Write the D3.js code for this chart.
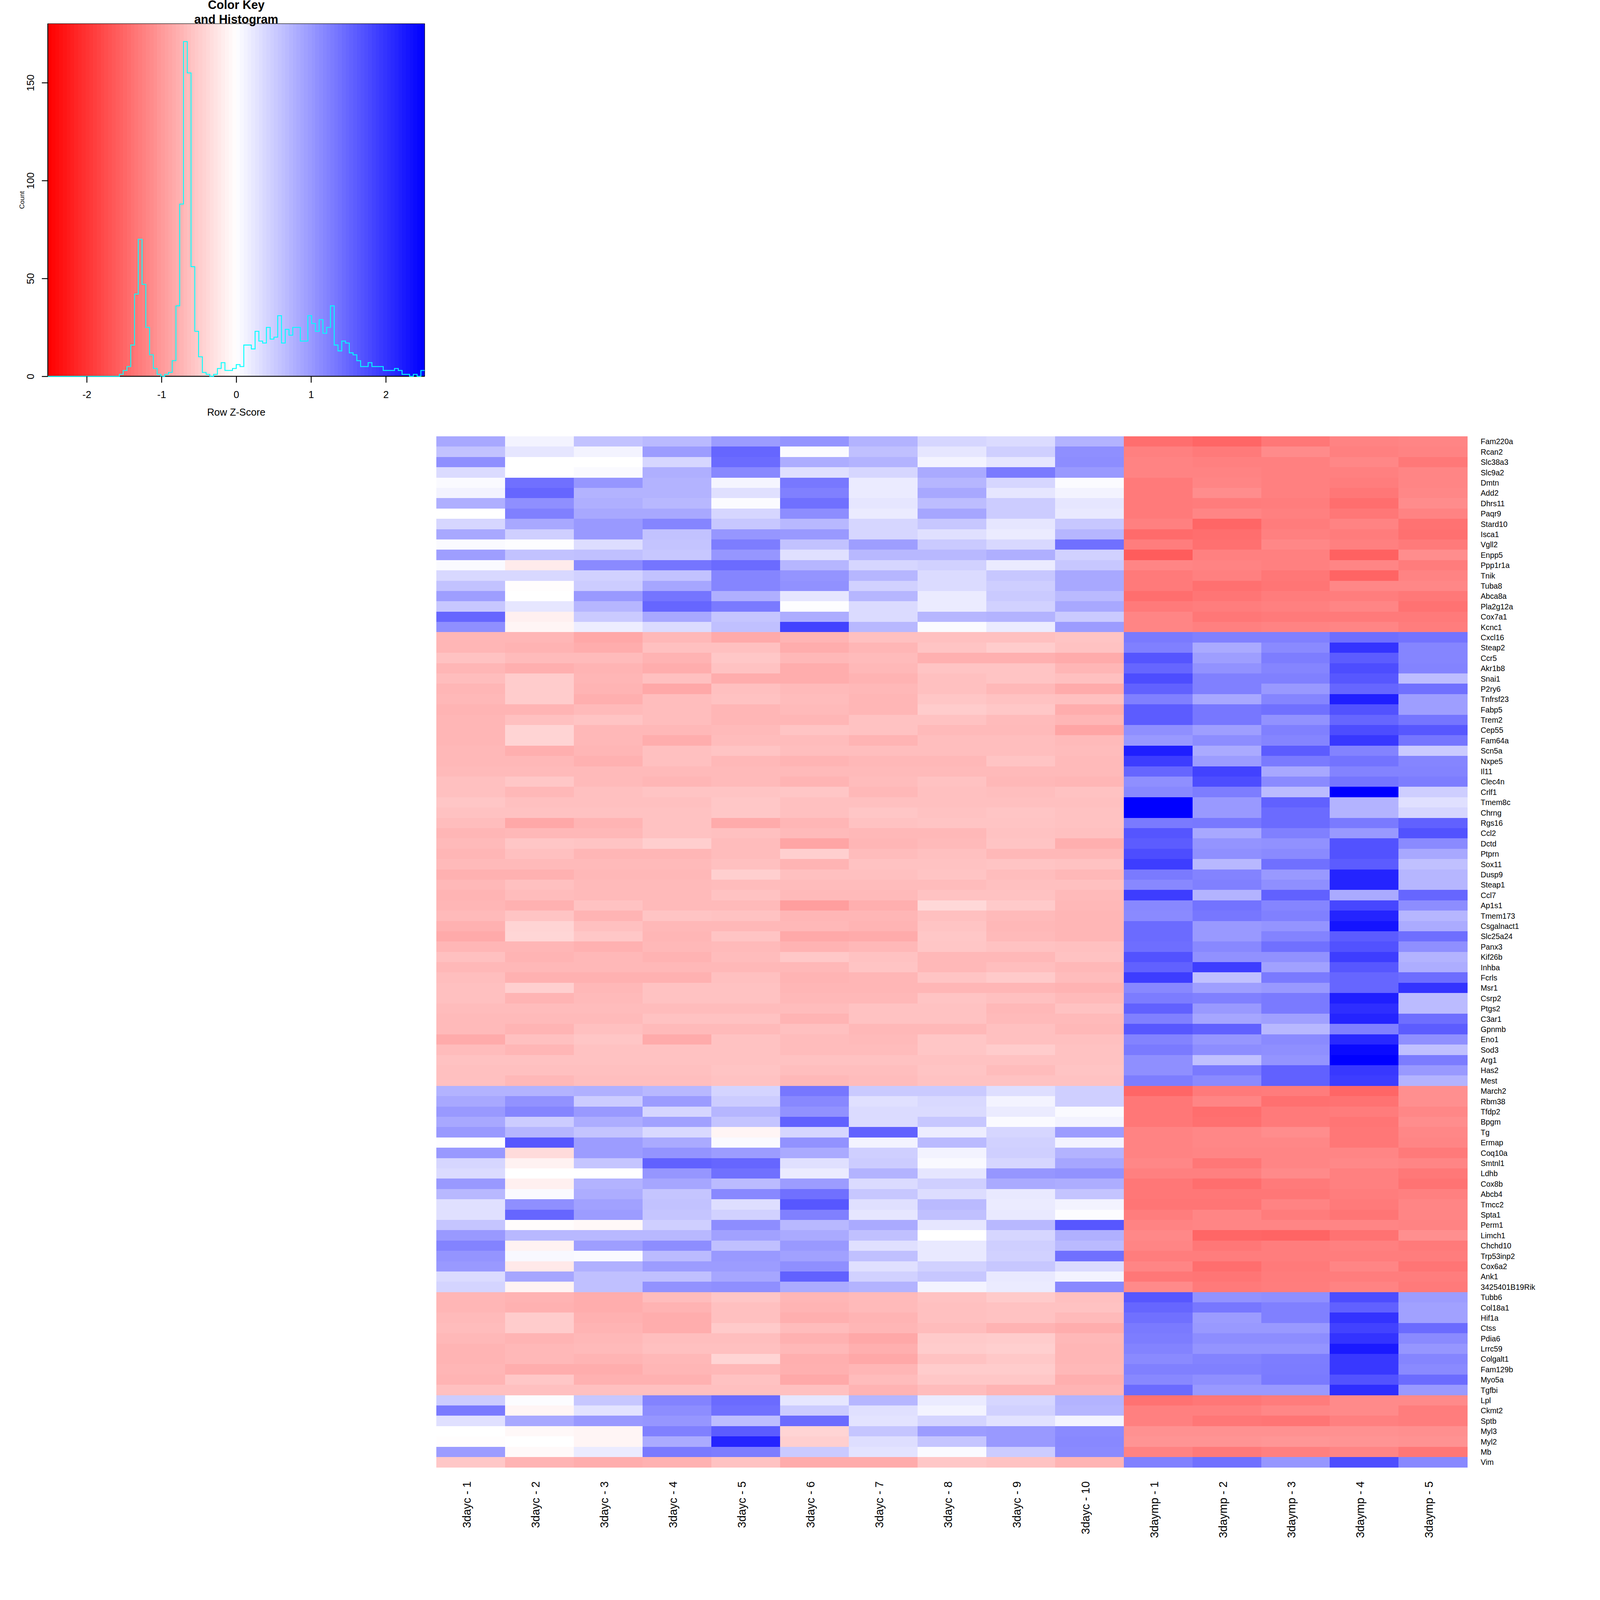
<!DOCTYPE html>
<html>
<head>
<meta charset="utf-8">
<script src="https://cdn.jsdelivr.net/npm/d3@7"></script>
<style>
  html, body { margin: 0; padding: 0; background: #fff; width: 100%; height: 100%; overflow: hidden; }
  svg { display: block; width: 100vw; height: 100vh; }
  text { font-family: "Liberation Sans", Arial, sans-serif; fill: #000; }
</style>
</head>
<body>
<svg id="chart" viewBox="0 0 4800 4800" preserveAspectRatio="xMinYMin meet"></svg>
<script>
// =========================
// DATA
// =========================
const colLabels = [
  "3dayc - 1", "3dayc - 2", "3dayc - 3", "3dayc - 4", "3dayc - 5",
  "3dayc - 6", "3dayc - 7", "3dayc - 8", "3dayc - 9", "3dayc - 10",
  "3daymp - 1", "3daymp - 2", "3daymp - 3", "3daymp - 4", "3daymp - 5"
];

const rowLabels = [
  "Fam220a", "Rcan2", "Slc38a3", "Slc9a2", "Dmtn", "Add2", "Dhrs11", "Paqr9", "Stard10", "Isca1",
  "Vgll2", "Enpp5", "Ppp1r1a", "Tnik", "Tuba8", "Abca8a", "Pla2g12a", "Cox7a1", "Kcnc1", "Cxcl16",
  "Steap2", "Ccr5", "Akr1b8", "Snai1", "P2ry6", "Tnfrsf23", "Fabp5", "Trem2", "Cep55", "Fam64a",
  "Scn5a", "Nxpe5", "Il11", "Clec4n", "Crlf1", "Tmem8c", "Chrng", "Rgs16", "Ccl2", "Dctd",
  "Ptprn", "Sox11", "Dusp9", "Steap1", "Ccl7", "Ap1s1", "Tmem173", "Csgalnact1", "Slc25a24", "Panx3",
  "Kif26b", "Inhba", "Fcrls", "Msr1", "Csrp2", "Ptgs2", "C3ar1", "Gpnmb", "Eno1", "Sod3",
  "Arg1", "Has2", "Mest", "March2", "Rbm38", "Tfdp2", "Bpgm", "Tg", "Ermap", "Coq10a",
  "Smtnl1", "Ldhb", "Cox8b", "Abcb4", "Tmcc2", "Spta1", "Perm1", "Limch1", "Chchd10", "Trp53inp2",
  "Cox6a2", "Ank1", "3425401B19Rik", "Tubb6", "Col18a1", "Hif1a", "Ctss", "Pdia6", "Lrrc59", "Colgalt1",
  "Fam129b", "Myo5a", "Tgfbi", "Lpl", "Ckmt2", "Sptb", "Myl3", "Myl2", "Mb", "Vim"
];

// row z-scores, top row first
const zScores = [
  [.85,.12,.6,.68,.97,1.05,.75,.4,.35,.75,-1.42,-1.5,-1.33,-1.22,-1.2],
  [.6,.25,.12,.97,1.5,.04,.62,.25,.47,1.1,-1.25,-1.3,-1.14,-1.25,-1.22],
  [1.1,0,0,.4,1.45,.8,.75,.12,.25,1.12,-1.22,-1.25,-1.25,-1.18,-1.32],
  [.35,0,.05,.78,1.17,.3,.4,.83,1.3,1.0,-1.22,-1.22,-1.25,-1.25,-1.2],
  [.05,1.4,1.03,.75,.1,1.32,.2,.72,.4,.04,-1.3,-1.2,-1.25,-1.27,-1.2],
  [.12,1.5,.75,.75,.3,1.25,.2,.85,.25,.12,-1.3,-1.12,-1.25,-1.33,-1.18],
  [.78,1.1,.78,.7,.04,1.4,.25,.65,.5,.25,-1.3,-1.28,-1.27,-1.42,-1.13],
  [0,1.25,.85,.85,.4,1.12,.2,.87,.5,.22,-1.3,-1.2,-1.25,-1.33,-1.22],
  [.4,.85,1.0,1.2,.55,.7,.4,.55,.25,.55,-1.25,-1.5,-1.28,-1.22,-1.38],
  [.85,.47,1.0,.6,1.03,1.0,.4,.3,.2,.72,-1.45,-1.42,-1.25,-1.28,-1.4],
  [.05,.02,.33,.58,1.27,.6,.95,.52,.38,1.4,-1.27,-1.4,-1.18,-1.25,-1.3],
  [.95,.6,.62,.55,1.03,.3,.7,.7,.78,.45,-1.6,-1.25,-1.25,-1.55,-1.12],
  [.05,-.2,1.15,1.35,1.45,.72,.4,.45,.2,.55,-1.2,-1.22,-1.25,-1.2,-1.28],
  [.38,.38,.45,.6,1.2,1.05,.72,.35,.55,.85,-1.3,-1.25,-1.33,-1.52,-1.22],
  [.6,-.02,.5,.87,1.2,1.08,.45,.35,.48,.85,-1.3,-1.4,-1.35,-1.18,-1.18],
  [.95,0,1.0,1.35,.78,.25,.72,.2,.52,.68,-1.42,-1.35,-1.28,-1.27,-1.32],
  [.55,.25,.72,1.5,1.3,.02,.35,.2,.45,.85,-1.3,-1.27,-1.25,-1.2,-1.38],
  [1.5,-.15,.52,.85,.57,.8,.35,.72,.75,.52,-1.2,-1.33,-1.3,-1.3,-1.3],
  [1.1,-.1,.18,.35,.62,1.85,.7,.05,.2,.97,-1.2,-1.25,-1.22,-1.2,-1.27],
  [-.72,-.72,-.85,-.7,-.83,-.74,-.62,-.62,-.62,-.58,1.3,1.25,1.25,1.42,1.37],
  [-.72,-.75,-.8,-.62,-.62,-.8,-.72,-.58,-.5,-.6,1.25,.83,1.15,2.0,1.2],
  [-.6,-.67,-.67,-.75,-.55,-.7,-.67,-.77,-.77,-.82,1.67,.95,1.27,1.6,1.2],
  [-.72,-.78,-.74,-.8,-.6,-.8,-.7,-.58,-.58,-.72,1.5,1.07,1.2,1.75,1.22],
  [-.65,-.5,-.72,-.62,-.8,-.8,-.75,-.62,-.58,-.62,1.75,1.25,1.25,1.65,.65],
  [-.72,-.5,-.74,-.85,-.62,-.68,-.7,-.62,-.7,-.82,1.55,1.25,1.0,1.5,1.4],
  [-.7,-.5,-.78,-.65,-.6,-.66,-.72,-.56,-.6,-.62,1.25,.85,1.2,2.2,.95],
  [-.74,-.74,-.68,-.65,-.72,-.68,-.72,-.5,-.55,-.8,1.6,1.33,1.4,1.7,.95],
  [-.72,-.62,-.58,-.65,-.72,-.72,-.6,-.6,-.67,-.72,1.6,1.33,1.07,1.5,1.35],
  [-.72,-.42,-.7,-.7,-.68,-.58,-.6,-.68,-.68,-.88,1.1,.95,1.25,1.75,1.65],
  [-.72,-.42,-.7,-.8,-.66,-.66,-.74,-.64,-.64,-.68,1.0,1.12,1.2,1.95,1.35],
  [-.7,-.78,-.72,-.62,-.58,-.64,-.64,-.64,-.64,-.66,2.2,.83,1.6,1.22,.52],
  [-.7,-.7,-.76,-.62,-.7,-.74,-.7,-.7,-.58,-.68,1.9,.97,1.3,1.37,1.2],
  [-.68,-.68,-.68,-.68,-.68,-.68,-.68,-.68,-.68,-.68,1.5,1.85,.85,1.22,1.22],
  [-.62,-.55,-.68,-.72,-.68,-.74,-.66,-.6,-.7,-.72,1.1,1.75,1.15,1.35,1.27],
  [-.62,-.7,-.62,-.58,-.58,-.56,-.7,-.62,-.64,-.6,1.17,1.27,.67,2.5,.48],
  [-.56,-.62,-.62,-.62,-.55,-.62,-.62,-.62,-.62,-.62,2.5,1.0,1.55,.75,.3],
  [-.6,-.6,-.6,-.6,-.55,-.62,-.56,-.6,-.57,-.6,2.5,1.0,1.45,.75,.4],
  [-.65,-.85,-.74,-.6,-.82,-.72,-.6,-.58,-.58,-.6,1.3,1.32,1.45,1.3,1.55],
  [-.72,-.7,-.7,-.6,-.62,-.68,-.7,-.7,-.6,-.62,1.67,.85,1.25,1.0,1.7],
  [-.68,-.56,-.58,-.48,-.66,-.88,-.72,-.68,-.58,-.78,1.6,1.05,1.08,1.7,1.15],
  [-.72,-.62,-.72,-.72,-.66,-.47,-.66,-.62,-.7,-.7,1.75,1.1,1.15,1.7,.85],
  [-.68,-.68,-.68,-.68,-.62,-.74,-.6,-.6,-.58,-.6,1.9,.7,1.4,1.6,.62],
  [-.76,-.76,-.7,-.7,-.47,-.62,-.62,-.58,-.65,-.7,1.3,1.22,1.0,2.15,.72],
  [-.7,-.62,-.68,-.68,-.66,-.66,-.66,-.66,-.62,-.62,1.17,1.25,1.1,2.15,.72],
  [-.74,-.66,-.68,-.68,-.6,-.68,-.68,-.6,-.6,-.68,1.9,.75,1.55,.83,1.5],
  [-.72,-.76,-.6,-.68,-.68,-.95,-.78,-.38,-.52,-.7,1.17,1.37,1.2,1.8,1.12],
  [-.68,-.58,-.74,-.58,-.6,-.72,-.72,-.62,-.68,-.72,1.15,1.33,1.25,2.15,.72],
  [-.76,-.42,-.62,-.7,-.7,-.7,-.74,-.58,-.7,-.72,1.45,1.0,1.05,2.3,.82],
  [-.83,-.4,-.55,-.72,-.58,-.84,-.82,-.55,-.68,-.72,1.45,1.0,1.22,1.6,1.42],
  [-.72,-.72,-.76,-.7,-.68,-.75,-.7,-.56,-.6,-.62,1.42,1.17,1.4,1.7,1.1],
  [-.62,-.74,-.7,-.75,-.66,-.54,-.6,-.7,-.7,-.6,1.7,1.08,1.08,1.9,.75],
  [-.7,-.7,-.7,-.7,-.7,-.7,-.58,-.7,-.64,-.7,1.55,1.9,.92,1.65,.8],
  [-.64,-.76,-.76,-.76,-.62,-.74,-.72,-.58,-.52,-.66,1.9,.62,1.3,1.5,1.43],
  [-.62,-.47,-.7,-.6,-.6,-.72,-.72,-.72,-.72,-.75,1.17,.95,1.0,1.5,2.0],
  [-.62,-.74,-.68,-.6,-.6,-.7,-.7,-.58,-.62,-.68,1.28,1.25,1.3,2.2,.67],
  [-.66,-.66,-.66,-.66,-.66,-.66,-.6,-.6,-.7,-.6,1.55,1.0,1.3,2.05,.67],
  [-.68,-.68,-.68,-.6,-.6,-.74,-.6,-.6,-.68,-.68,1.25,.87,.93,2.15,1.42],
  [-.68,-.74,-.62,-.68,-.68,-.62,-.7,-.7,-.62,-.7,1.65,1.55,.7,1.25,1.6],
  [-.82,-.62,-.56,-.82,-.6,-.66,-.68,-.56,-.62,-.62,1.22,1.03,1.15,2.1,1.1],
  [-.66,-.72,-.6,-.6,-.6,-.66,-.66,-.56,-.5,-.6,1.3,1.12,1.1,2.4,.62],
  [-.6,-.6,-.6,-.6,-.6,-.6,-.6,-.6,-.6,-.6,1.1,.62,1.05,2.5,1.28],
  [-.62,-.62,-.62,-.62,-.58,-.64,-.64,-.58,-.66,-.58,1.1,1.3,1.55,1.95,1.0],
  [-.62,-.7,-.64,-.64,-.6,-.7,-.66,-.6,-.6,-.6,1.27,1.15,1.55,1.9,.75],
  [.75,.75,.77,.7,.42,1.33,.52,.52,.32,.47,-1.5,-1.3,-1.28,-1.5,-1.1],
  [.85,1.07,.5,.97,.5,1.17,.3,.37,.12,.47,-1.33,-1.2,-1.4,-1.38,-1.1],
  [1.0,1.2,1.0,.4,.72,1.07,.35,.35,.2,.05,-1.33,-1.42,-1.3,-1.28,-1.18],
  [.85,.5,.8,.92,.58,1.55,.35,.55,.05,.12,-1.33,-1.4,-1.3,-1.35,-1.12],
  [1.0,.72,.58,.37,-.1,.4,1.55,.18,.4,.97,-1.22,-1.18,-1.12,-1.33,-1.18],
  [.02,1.65,.97,.83,.05,1.07,.12,.68,.45,.12,-1.22,-1.18,-1.18,-1.33,-1.2],
  [1.0,-.35,.97,1.05,.97,.83,.47,.12,.47,.75,-1.22,-1.2,-1.2,-1.2,-1.3],
  [.4,-.13,.57,1.55,1.5,.3,.5,.06,.4,.87,-1.18,-1.33,-1.2,-1.17,-1.2],
  [.35,0,0,1.03,1.4,.2,.75,.25,1.03,1.07,-1.25,-1.25,-1.15,-1.25,-1.32],
  [1.0,-.15,.75,.87,.67,.97,.35,.47,.83,.8,-1.33,-1.42,-1.3,-1.25,-1.37],
  [.7,.05,.8,.57,1.17,1.4,.55,.33,.22,.58,-1.33,-1.33,-1.33,-1.27,-1.25],
  [.3,1.1,.92,.6,.32,1.65,.3,.68,.2,.12,-1.35,-1.35,-1.22,-1.3,-1.2],
  [.3,1.5,.97,.57,.45,1.25,.25,.62,.22,.03,-1.27,-1.2,-1.28,-1.35,-1.2],
  [.57,-.03,-.07,.47,1.12,.7,.83,.25,.7,1.65,-1.22,-1.2,-1.2,-1.2,-1.22],
  [1.0,.7,.7,.7,.92,.83,.62,0,.4,.77,-1.17,-1.5,-1.52,-1.38,-1.1],
  [1.22,-.13,.95,1.12,.62,1.0,.3,.22,.47,.68,-1.2,-1.33,-1.27,-1.25,-1.3],
  [1.05,.07,.05,.67,1.0,.92,.62,.22,.45,1.4,-1.27,-1.27,-1.27,-1.27,-1.27],
  [1.0,-.22,.77,.97,.97,1.1,.3,.45,.55,.35,-1.2,-1.42,-1.3,-1.2,-1.35],
  [.35,.87,.62,.62,.87,1.55,.45,.55,.22,.12,-1.33,-1.35,-1.28,-1.27,-1.27],
  [.42,-.12,.62,1.07,1.1,.82,.75,.12,.2,1.17,-1.15,-1.3,-1.27,-1.22,-1.3],
  [-.72,-.75,-.8,-.66,-.56,-.72,-.68,-.6,-.52,-.62,1.65,1.07,1.1,1.75,.97],
  [-.72,-.76,-.8,-.75,-.62,-.74,-.68,-.62,-.6,-.6,1.5,1.33,1.25,1.55,.92],
  [-.68,-.5,-.76,-.8,-.62,-.78,-.74,-.62,-.6,-.68,1.4,.97,1.25,2.0,.92],
  [-.66,-.5,-.74,-.8,-.52,-.66,-.72,-.66,-.75,-.8,1.3,1.0,1.0,1.85,1.45],
  [-.7,-.74,-.7,-.64,-.64,-.76,-.85,-.52,-.5,-.7,1.27,1.12,1.12,2.0,1.15],
  [-.74,-.7,-.68,-.62,-.62,-.7,-.78,-.5,-.47,-.72,1.22,1.05,1.05,2.25,1.03],
  [-.74,-.7,-.74,-.7,-.42,-.78,-.85,-.6,-.54,-.72,1.15,1.22,1.27,1.95,1.2],
  [-.72,-.8,-.8,-.72,-.7,-.77,-.72,-.5,-.5,-.7,1.25,1.25,1.28,1.95,1.15],
  [-.74,-.55,-.76,-.76,-.6,-.84,-.66,-.55,-.55,-.78,1.17,1.1,1.3,1.7,1.45],
  [-.62,-.62,-.62,-.62,-.62,-.62,-.75,-.66,-.74,-.74,1.45,1.0,1.0,2.05,1.0],
  [.5,.03,.55,1.22,1.45,.25,.72,.2,.4,.75,-1.38,-1.33,-1.28,-1.15,-1.15],
  [1.3,-.1,.27,1.12,1.4,.5,.3,.12,.45,.72,-1.25,-1.25,-1.18,-1.15,-1.27],
  [.3,.85,1.0,1.03,.65,1.45,.27,.42,.28,.12,-1.25,-1.33,-1.35,-1.25,-1.27],
  [0,-.07,-.1,1.25,1.6,-.42,.57,.97,1.0,1.15,-1.08,-1.08,-1.08,-1.08,-1.1],
  [-.02,0,-.1,.82,2.15,-.47,.32,.57,1.0,1.17,-1.05,-1.05,-1.03,-1.05,-1.07],
  [.97,-.06,.2,1.3,1.27,.52,.27,.05,.5,1.15,-1.22,-1.3,-1.25,-1.2,-1.33],
  [-.55,-.75,-.8,-.76,-.6,-.82,-.82,-.55,-.6,-.75,1.25,1.4,1.03,1.75,1.17]
];

// colour key histogram: one count per bin, left to right
const histCounts = [
  0,0,0,0,0,0,0,0,0,0,0,0,0,0,0,0,0,0,0,
  1,3,5,16,42,70,47,25,11,4,
  1,0,1,2,8,36,88,171,155,56,
  23,10,2,1,0,1,4,7,3,3,
  4,6,5,16,16,14,23,18,17,25,
  19,20,31,17,24,21,25,25,18,18,
  31,27,23,29,22,25,36,16,13,18,
  17,12,11,8,5,5,7,5,5,5,
  3,3,3,4,3,1,1,0,1,0,
  3
];
const keyXTicks = [-2, -1, 0, 1, 2];
const keyYTicks = [0, 50, 100, 150];
const keyRange = [-2.52, 2.52];
const keyTitle = ["Color Key", "and Histogram"];

// =========================
// SETUP
// =========================
const svg = d3.select("#chart");

const color = d3.scaleLinear()
  .domain([-2.5, 0, 2.5])
  .range(["#ff0000", "#ffffff", "#0000ff"])
  .clamp(true);

// =========================
// HEATMAP
// =========================
const heat = { left: 1309, right: 4402, top: 1309, bottom: 4402 };

const xCol = d3.scaleBand().domain(colLabels).range([heat.left, heat.right]);
const yRow = d3.scaleBand().domain(d3.range(rowLabels.length)).range([heat.top, heat.bottom]);

const rows = svg.append("g").attr("shape-rendering", "crispEdges")
  .selectAll("g")
  .data(zScores)
  .join("g")
  .attr("transform", (d, i) => `translate(0,${yRow(i)})`);

rows.selectAll("rect")
  .data(d => d)
  .join("rect")
  .attr("x", (d, j) => xCol(colLabels[j]))
  .attr("width", xCol.bandwidth() + 0.5)
  .attr("height", yRow.bandwidth() + 0.5)
  .attr("fill", d => color(d));

svg.append("g")
  .selectAll("text")
  .data(rowLabels)
  .join("text")
  .attr("x", 4442)
  .attr("y", (d, i) => yRow(i) + yRow.bandwidth() / 2 + 8.5)
  .attr("font-size", 23)
  .text(d => d);

svg.append("g")
  .selectAll("text")
  .data(colLabels)
  .join("text")
  .attr("transform", d => `translate(${xCol(d) + xCol.bandwidth() / 2},4444) rotate(-90)`)
  .attr("text-anchor", "end")
  .attr("font-size", 34)
  .text(d => d);

// =========================
// COLOR KEY + HISTOGRAM
// =========================
const key = { left: 143.5, right: 1274, top: 71, bottom: 1129 };

const xKey = d3.scaleLinear().domain(keyRange).range([key.left, key.right]);
const yKey = d3.scaleLinear().domain([0, 150]).range([key.bottom, 248]);

const binWidth = (keyRange[1] - keyRange[0]) / histCounts.length;
const bins = histCounts.map((count, i) => ({
  x0: keyRange[0] + i * binWidth,
  x1: keyRange[0] + (i + 1) * binWidth,
  count
}));

svg.append("g").attr("shape-rendering", "crispEdges")
  .selectAll("rect")
  .data(bins)
  .join("rect")
  .attr("x", d => xKey(d.x0))
  .attr("y", key.top)
  .attr("width", d => xKey(d.x1) - xKey(d.x0) + 0.5)
  .attr("height", key.bottom - key.top)
  .attr("fill", d => color((d.x0 + d.x1) / 2));

svg.append("rect")
  .attr("x", key.left).attr("y", key.top)
  .attr("width", key.right - key.left).attr("height", key.bottom - key.top)
  .attr("fill", "none").attr("stroke", "#222").attr("stroke-width", 1.5);

svg.append("line")
  .attr("x1", key.left).attr("x2", key.left)
  .attr("y1", key.top).attr("y2", key.bottom)
  .attr("stroke", "#000").attr("stroke-width", 2.7);
svg.append("line")
  .attr("x1", key.left).attr("x2", key.right)
  .attr("y1", key.bottom).attr("y2", key.bottom)
  .attr("stroke", "#000").attr("stroke-width", 2.7);

const histLine = d3.line()
  .x(d => xKey(d.x))
  .y(d => yKey(d.count))
  .curve(d3.curveStepAfter);

const histPoints = bins.map(d => ({ x: d.x0, count: d.count }));
histPoints.push({ x: keyRange[1], count: histCounts[histCounts.length - 1] });

svg.append("path")
  .attr("d", histLine(histPoints))
  .attr("fill", "none")
  .attr("stroke", "#00ffff")
  .attr("stroke-width", 2.7);

const axisBottom = svg.append("g")
  .attr("transform", `translate(0,${key.bottom})`)
  .call(d3.axisBottom(xKey).tickValues(keyXTicks).tickSize(19).tickFormat(d => String(d)));
axisBottom.select(".domain").remove();
axisBottom.selectAll("line").attr("stroke", "#000").attr("stroke-width", 2.7);
axisBottom.selectAll("text")
  .attr("y", 65).attr("dy", 0)
  .attr("font-size", 30).attr("font-family", null);

const axisLeft = svg.append("g")
  .attr("transform", `translate(${key.left},0)`)
  .call(d3.axisLeft(yKey).tickValues(keyYTicks).tickSize(18).tickFormat(d => String(d)));
axisLeft.select(".domain").remove();
axisLeft.selectAll("line").attr("stroke", "#000").attr("stroke-width", 2.7);
axisLeft.selectAll("text")
  .attr("x", 0).attr("dy", 0)
  .attr("text-anchor", "middle")
  .attr("transform", "translate(-41.5,0) rotate(-90)")
  .attr("font-size", 30).attr("font-family", null);

svg.append("text")
  .attr("x", (key.left + key.right) / 2).attr("y", 1247)
  .attr("text-anchor", "middle").attr("font-size", 30)
  .text("Row Z-Score");

svg.append("text")
  .attr("transform", `translate(73,${(key.top + key.bottom) / 2}) rotate(-90)`)
  .attr("text-anchor", "middle").attr("font-size", 20)
  .text("Count");

svg.append("g")
  .selectAll("text")
  .data(keyTitle)
  .join("text")
  .attr("x", (key.left + key.right) / 2)
  .attr("y", (d, i) => 27 + i * 43)
  .attr("text-anchor", "middle")
  .attr("font-size", 36)
  .attr("font-weight", "bold")
  .text(d => d);
</script>
</body>
</html>
